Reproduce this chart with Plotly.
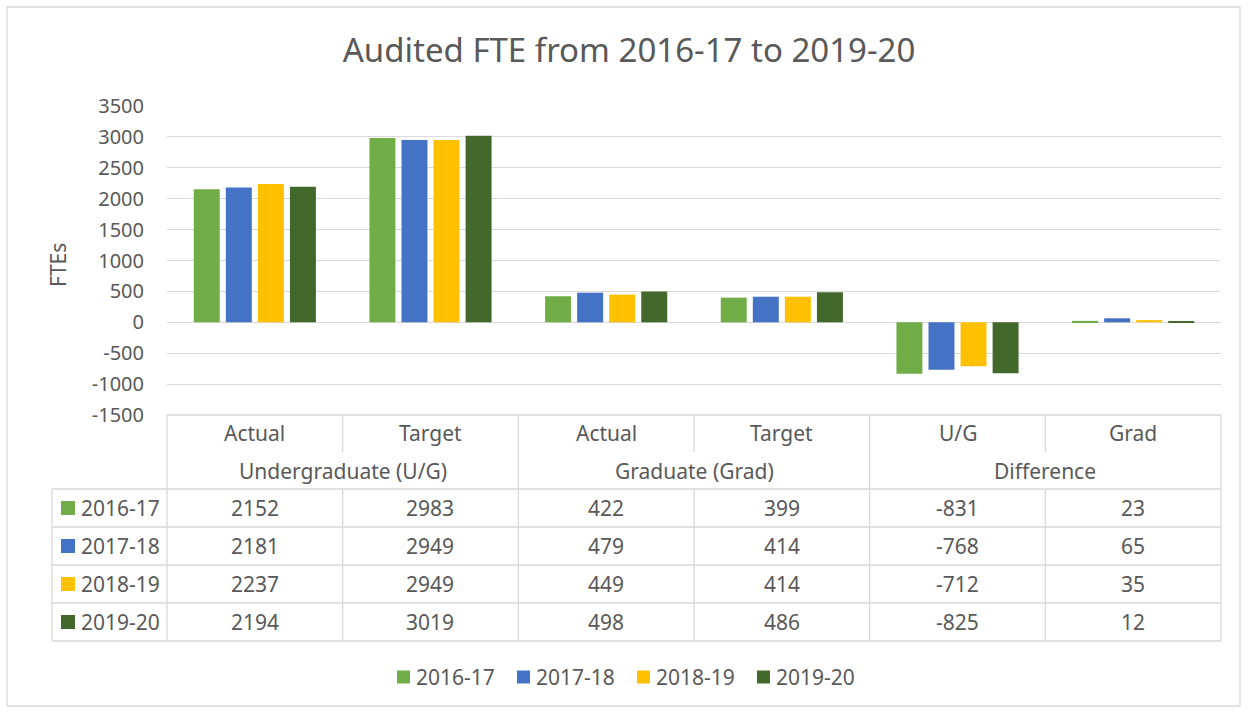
import plotly.graph_objects as go

# ---- data ----
years = ["2016-17", "2017-18", "2018-19", "2019-20"]
categories = ["Actual", "Target", "Actual", "Target", "U/G", "Grad"]
groups = ["Undergraduate (U/G)", "Graduate (Grad)", "Difference"]
fte_2016_17 = [2152, 2983, 422, 399, -831, 23]
fte_2017_18 = [2181, 2949, 479, 414, -768, 65]
fte_2018_19 = [2237, 2949, 449, 414, -712, 35]
fte_2019_20 = [2194, 3019, 498, 486, -825, 12]
series = [fte_2016_17, fte_2017_18, fte_2018_19, fte_2019_20]
colors = ["#70AD47", "#4472C4", "#FFC000", "#43682B"]
y_ticks = [-1500, -1000, -500, 0, 500, 1000, 1500, 2000, 2500, 3000, 3500]

W, H = 1248, 713
L, R, T, B = 167, 1221, 106, 415   # plot area in pixels
FONT = "Noto Sans"
TXT = "#595959"
GRID = "#D9D9D9"
FS = 21

def px(xp):
    return (xp - L) / (R - L)

def py(yp):
    return (B - yp) / (B - T)

xpos = list(range(len(categories)))
fig = go.Figure()
for name, vals, c in zip(years, series, colors):
    fig.add_trace(go.Bar(x=xpos, y=vals, name=name, marker=dict(color=c, line=dict(width=0)),
                         showlegend=False))

shapes = []
annotations = []

def hline(x0, x1, y, w=1.3):
    shapes.append(dict(type="line", xref="paper", yref="paper", x0=px(x0), x1=px(x1),
                       y0=py(y), y1=py(y), line=dict(color=GRID, width=w), layer="above"))

def vline(x, y0, y1, w=1.3):
    shapes.append(dict(type="line", xref="paper", yref="paper", x0=px(x), x1=px(x),
                       y0=py(y0), y1=py(y1), line=dict(color=GRID, width=w), layer="above"))

def text(s, xp, yp, anchor="center", size=FS):
    annotations.append(dict(text=s, xref="paper", yref="paper", x=px(xp), y=py(yp),
                            xanchor=anchor, yanchor="middle", showarrow=False,
                            font=dict(family=FONT, size=size, color=TXT)))

# outer chart border
shapes.append(dict(type="rect", xref="paper", yref="paper", x0=px(7), x1=px(1240),
                   y0=py(7), y1=py(706), line=dict(color=GRID, width=1.3), layer="below"))

ncat = len(categories)
colw = (R - L) / ncat
col_edges = [L + i * colw for i in range(ncat + 1)]
row_cat = (B, 452)
row_grp = (452, 489)
row_h = 38
data_top = 489
data_rows = [(data_top + i * row_h, data_top + (i + 1) * row_h) for i in range(len(years))]
table_bottom = data_rows[-1][1]
leg_left = 52

# table lines
hline(L, R, B)
hline(leg_left, R, data_top)
for r0, r1 in data_rows:
    hline(leg_left, R, r1)
vline(leg_left, data_top, table_bottom)
for i, xe in enumerate(col_edges):
    if i % 2 == 0:
        vline(xe, B, table_bottom)
    else:
        vline(xe, B, row_cat[1])
        vline(xe, data_top, table_bottom)

# table texts
for i, c in enumerate(categories):
    text(c, (col_edges[i] + col_edges[i + 1]) / 2, (row_cat[0] + row_cat[1]) / 2)
for g, gname in enumerate(groups):
    text(gname, (col_edges[2 * g] + col_edges[2 * g + 2]) / 2, (row_grp[0] + row_grp[1]) / 2)
for (r0, r1), name, vals, c in zip(data_rows, years, series, colors):
    ym = (r0 + r1) / 2
    shapes.append(dict(type="rect", xref="paper", yref="paper", x0=px(61), x1=px(75),
                       y0=py(ym - 7), y1=py(ym + 7), fillcolor=c, line=dict(width=0)))
    text(name, 79, ym, anchor="left")
    for i, v in enumerate(vals):
        text(str(v), (col_edges[i] + col_edges[i + 1]) / 2, ym)

# bottom legend
leg_x = [397, 517, 637, 757]
leg_y = 677
for xl, name, c in zip(leg_x, years, colors):
    shapes.append(dict(type="rect", xref="paper", yref="paper", x0=px(xl), x1=px(xl + 13),
                       y0=py(leg_y - 6.5), y1=py(leg_y + 6.5), fillcolor=c, line=dict(width=0)))
    text(name, xl + 17, leg_y, anchor="left")

# y axis title
annotations.append(dict(text="FTEs", xref="paper", yref="paper", x=px(58), y=py(265),
                        xanchor="center", yanchor="middle", textangle=-90, showarrow=False,
                        font=dict(family=FONT, size=FS, color=TXT)))

fig.update_layout(
    width=W, height=H,
    margin=dict(l=L, r=W - R, t=T, b=H - B),
    paper_bgcolor="white", plot_bgcolor="white",
    barmode="group", bargap=0.27, bargroupgap=0.19,
    title=dict(text="Audited FTE from 2016-17 to 2019-20", x=629 / W, y=1 - 50 / H,
               xref="container", yref="container", xanchor="center", yanchor="middle",
               font=dict(family=FONT, size=33, color=TXT)),
    xaxis=dict(range=[-0.5, ncat - 0.5], showticklabels=False, showgrid=False,
               zeroline=False, showline=False, fixedrange=True),
    yaxis=dict(range=[-1500, 3500], tickvals=y_ticks, ticktext=[str(v) for v in y_ticks],
               showgrid=True, gridcolor=GRID,
               gridwidth=1.3, zeroline=False, showline=False, ticks="",
               ticklabelstandoff=22,
               tickfont=dict(family=FONT, size=20, color=TXT)),
    shapes=shapes, annotations=annotations,
    showlegend=False,
)

fig.write_html("out.html")
